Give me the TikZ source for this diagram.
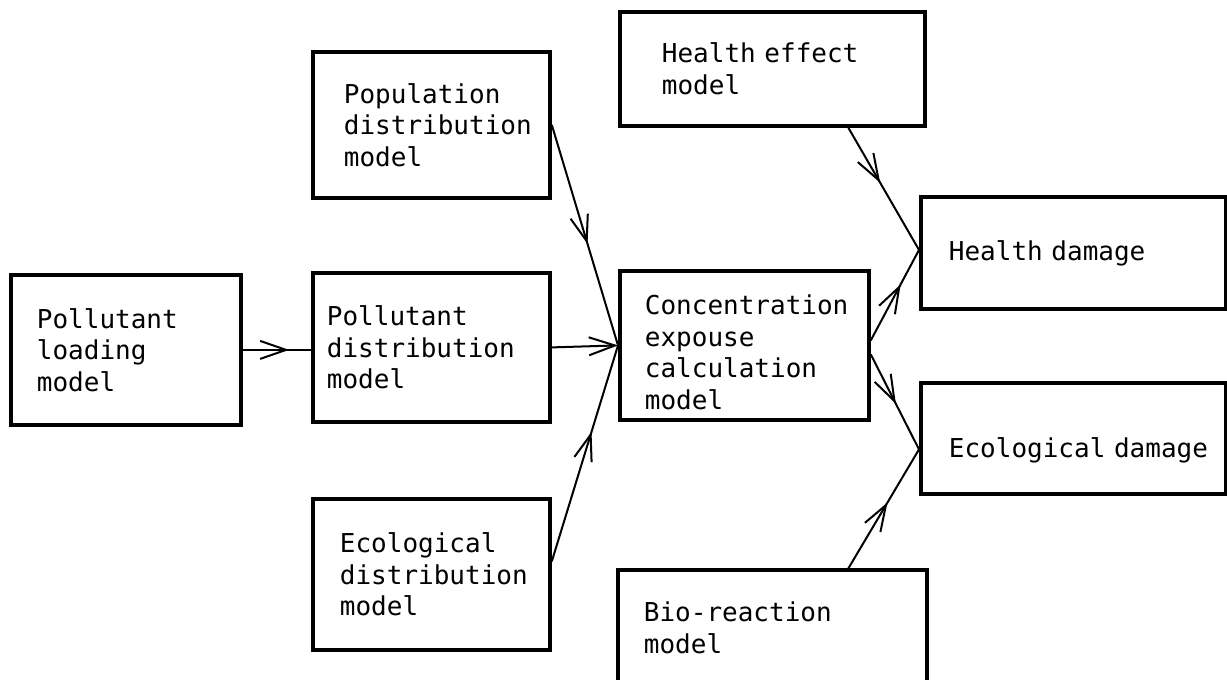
\documentclass[tikz,border=0pt]{standalone}
\usepackage{fontspec}
\newfontfamily\boxfont[WordSpace={1,0,0}]{DejaVu Sans Mono}
\usetikzlibrary{arrows.meta,decorations.markings}
\hyphenpenalty=10000
\exhyphenpenalty=10000
\newcommand\boxtextfont{\boxfont\fontsize{26}{31.5}\selectfont\spaceskip=15.65pt plus 0pt minus 0pt\relax}

\tikzset{
  boxline/.style={line width=3.8pt},
  box/.style={draw, boxline, anchor=north west, align=left, inner ysep=0pt,
    font=\boxtextfont},
  flow/.style={line width=2pt},
  barb/.style={-{Straight Barb[length=26pt,width=18pt]}},
  midtip/.style={postaction={decorate},
    decoration={markings, mark=at position #1 with {\arrow{Straight Barb[length=26pt,width=18pt]}}}}
}

\begin{document}
\begin{tikzpicture}[x=1pt,y=-1pt]
  \fill[white] (0,0) rectangle (1227,680);
  \useasboundingbox (0,0) rectangle (1227,680);

  % model boxes
  \node[box, minimum width=230pt, minimum height=150pt, inner xsep=26pt, text width=178pt]
    (load) at (9,273) {Pollutant\\loading\\model};
  \node[box, minimum width=237pt, minimum height=149pt, inner xsep=14pt, text width=209pt]
    (pdist) at (311,271) {Pollutant\\distribution\\model};
  \node[box, minimum width=237pt, minimum height=146pt, inner xsep=31pt, text width=175pt]
    (pop) at (311,50) {Population\\distribution\\model};
  \node[box, minimum width=237pt, minimum height=151pt, inner xsep=27pt, text width=183pt]
    (eco) at (311,497) {Ecological\\distribution\\model};
  \node[box, minimum width=305pt, minimum height=114pt, inner xsep=42pt, text width=221pt]
    (heff) at (618,10) {Health effect\\model};
  \node[box, minimum width=249pt, minimum height=149pt, inner xsep=25pt, text width=199pt,
    text height=34pt] (conc) at (618,269) {Concentration\\expouse\\calculation\\model};
  \node[box, draw=none, minimum width=305pt, minimum height=104pt, inner xsep=24pt, text width=257pt,
    text height=28pt] (bio) at (618,570) {Bio-reaction\\model};
  \draw[boxline] ([yshift=-130pt]bio.north west) -- (bio.north west)
    -- (bio.north east) -- ([yshift=-130pt]bio.north east);

  % damage boxes
  \node[box, minimum width=305pt, minimum height=112pt, inner xsep=28pt, text width=249pt]
    (hdmg) at (919,195) {Health damage};
  \node[box, minimum width=305pt, minimum height=111pt, inner xsep=28pt, text width=249pt,
    text height=43pt] (edmg) at (919,381) {Ecological~damage};

  % connectors
  \draw[flow, midtip=0.68] (load.east) -- (load.east -| pdist.west);
  \draw[flow, barb] (pdist.east) -- (conc.west);
  \draw[flow, midtip=0.54] (pop.east) -- (conc.west);
  \draw[flow, midtip=0.6] ([yshift=13pt]eco.east) -- (conc.west);
  \draw[flow, midtip=0.45] ([xshift=76pt]heff.south) -- ([yshift=3pt]hdmg.west);
  \draw[flow, midtip=0.62] ([yshift=5pt]conc.east) -- ([yshift=3pt]hdmg.west);
  \draw[flow, midtip=0.52] ([yshift=-9pt]conc.east) -- ([yshift=-11pt]edmg.west);
  \draw[flow, midtip=0.56] ([xshift=75pt]bio.north) -- ([yshift=-11pt]edmg.west);
\end{tikzpicture}
\end{document}
